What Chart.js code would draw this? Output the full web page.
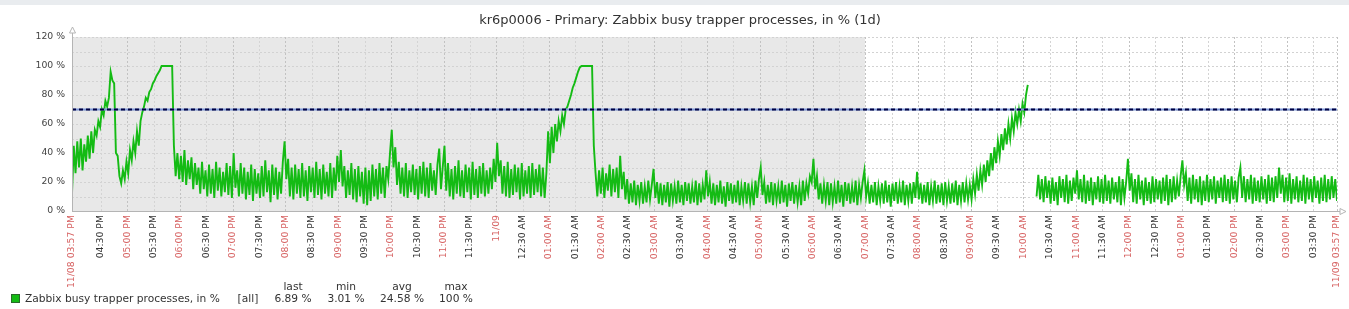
<!DOCTYPE html>
<html>
<head>
<meta charset="utf-8">
<title>kr6p0006 - Primary: Zabbix busy trapper processes</title>
<script src="https://cdn.jsdelivr.net/npm/chart.js@4.4.1/dist/chart.umd.min.js"></script>
<style>
  html, body { margin: 0; padding: 0; background: #fff; }
</style>
</head>
<body>
<canvas id="graph" width="1349" height="309"></canvas>
<script>
"use strict";

// ---- data (one sample every 2 minutes, 11/08 03:57 PM -> 11/09 03:57 PM) ----
const stepMin = 2;
const spanMin = 1440;
const shadeEndMin = 903;   // 07:00 AM, end of the grey (non-working) period
const triggerValue = 70;

const busyEvening = [
  12, 45, 26, 48, 30, 50, 28, 46, 34, 52,
  36, 55, 40, 56, 52, 62, 58, 70, 66, 76,
  72, 78, 96, 90, 88
];
const busySecondPeak = [
  40, 38, 24, 19, 28, 22, 34, 26, 42, 35,
  48, 40, 55, 45, 62, 68, 72, 78, 76, 82,
  84, 88, 90, 93, 95, 97, 100, 100, 100, 100,
  100, 100, 100
];
const busyNight = [
  45, 24, 40, 22, 38, 20, 42, 18, 35, 22,
  37, 15, 33, 18, 30, 12, 34, 15, 28, 10,
  32, 12, 29, 9, 34, 14, 30, 10, 27, 13,
  33, 11, 31, 9, 40, 16, 28, 10, 33, 12,
  30, 8, 27, 11, 32, 7, 29, 12, 26, 9,
  31, 10, 35, 13, 28, 6, 32, 11, 30, 8,
  27, 12, 34, 48, 22, 36, 10, 30, 8, 32,
  12, 29, 9, 33, 10, 28, 7, 31, 13, 30,
  9, 34, 11, 29, 8, 32, 12, 27, 10, 33,
  9, 30, 14, 38, 20, 42, 17, 31, 9, 28,
  11, 33, 8, 29, 6, 31, 10, 27, 5, 30,
  4, 28, 7, 32, 10, 29, 8, 33, 12, 30,
  9, 31, 22, 40, 56, 30, 44, 18, 34, 12,
  30, 10, 33, 9, 28, 13, 32, 11, 29, 8,
  31, 12, 34, 10, 30, 9, 33, 14, 28, 11,
  32, 43, 15, 30, 45, 14, 33, 10, 29, 8,
  31, 12, 35, 10, 28, 9, 32, 13, 30, 8,
  34, 11, 29, 9, 31, 12, 33, 10, 28, 12,
  30, 15, 36, 20, 47, 24, 35, 12, 31, 10,
  34, 9, 29, 11, 32, 13, 30, 8, 33, 10,
  28, 12, 31, 9, 33, 11, 29, 13, 32, 10,
  30, 9, 26
];
const busyOneAm = [
  55, 33, 58, 40, 60, 48, 62, 55, 66, 60,
  70, 72, 76, 80, 85, 88, 92, 96, 99, 100,
  100, 100, 100, 100, 100, 100
];
const busyMorning = [
  45, 26, 10, 28, 12, 30, 9, 26, 14, 32,
  10, 29, 13, 30, 9, 38, 15, 27, 8, 22,
  5, 19, 6, 21, 4, 18, 7, 20, 5, 17,
  6, 21, 8, 18, 29, 9, 20, 5, 19, 4,
  18, 6, 20, 3, 19, 7, 17, 5, 21, 6,
  18, 4, 20, 7, 19, 5, 17, 6, 21, 4,
  19, 6, 18, 8, 28, 10, 20, 5, 19, 4,
  18, 6, 21, 5, 17, 3, 20, 7, 19, 5,
  18, 6, 21, 4, 17, 7, 20, 5, 19, 6,
  17, 4, 21, 9, 22, 30, 11, 20, 5, 18,
  6, 20, 4, 19, 7, 17, 5, 21, 6, 18,
  3, 19, 7, 20, 5, 18, 6, 17, 4, 21,
  7, 19, 12, 24, 20, 36, 15, 24, 8, 19,
  5, 18, 7, 20, 4, 19, 6, 17, 5, 21,
  6, 18, 3, 20, 7, 19, 5, 17, 6, 21,
  4, 18, 9, 20, 28, 10, 19, 5, 18, 6,
  20, 4, 17, 7, 19, 5, 21, 6, 18, 3,
  19, 7, 20, 5, 17, 6, 21, 4, 18, 7,
  19, 5, 20, 9, 27, 8, 19, 5, 18, 6,
  20, 4, 17, 7, 21, 5, 18, 6, 19, 4,
  20, 7, 17, 5, 19, 6, 21, 4, 18, 7,
  20, 6, 19, 8
];
const busyRise = [
  18, 8, 22, 12, 25, 14, 28, 18, 32, 20,
  35, 24, 40, 28, 44, 33, 48, 38, 53, 42,
  57, 46, 60, 50, 64, 55, 68, 60, 70, 62,
  74, 68, 80, 87
];
const busyGap = [null, null, null, null];
const busyDay = [
  10, 25, 8, 22, 6, 24, 9, 21, 5, 23,
  7, 20, 4, 24, 9, 22, 6, 25, 5, 21,
  7, 23, 12, 28, 8, 22, 6, 25, 5, 21,
  7, 23, 4, 20, 8, 24, 6, 22, 5, 25,
  7, 21, 5, 23, 8, 20, 6, 24, 4, 22,
  9, 20, 36, 14, 26, 6, 22, 5, 25, 8,
  21, 4, 23, 7, 20, 5, 24, 6, 22, 8,
  21, 5, 23, 7, 25, 4, 22, 6, 24, 8,
  21, 10, 24, 35, 18, 26, 7, 23, 5, 25,
  8, 22, 6, 24, 4, 21, 7, 25, 6, 22,
  8, 24, 5, 21, 9, 23, 6, 25, 7, 22,
  5, 24, 8, 21, 6, 23, 30, 9, 24, 6,
  22, 8, 25, 5, 23, 7, 21, 6, 24, 8,
  22, 5, 25, 7, 23, 6, 24, 9, 30, 12,
  25, 6, 23, 7, 26, 5, 22, 8, 24, 6,
  21, 7, 25, 5, 23, 8, 22, 6, 24, 9,
  21, 5, 23, 7, 25, 6, 22, 8, 24, 9,
  22, 6.89
];

const xTickLabels = [
  "11/08 03:57 PM", "04:30 PM", "05:00 PM", "05:30 PM", "06:00 PM", "06:30 PM", "07:00 PM", "07:30 PM",
  "08:00 PM", "08:30 PM", "09:00 PM", "09:30 PM", "10:00 PM", "10:30 PM", "11:00 PM", "11:30 PM",
  "11/09", "12:30 AM", "01:00 AM", "01:30 AM", "02:00 AM", "02:30 AM", "03:00 AM", "03:30 AM",
  "04:00 AM", "04:30 AM", "05:00 AM", "05:30 AM", "06:00 AM", "06:30 AM", "07:00 AM", "07:30 AM",
  "08:00 AM", "08:30 AM", "09:00 AM", "09:30 AM", "10:00 AM", "10:30 AM", "11:00 AM", "11:30 AM",
  "12:00 PM", "12:30 PM", "01:00 PM", "01:30 PM", "02:00 PM", "02:30 PM", "03:00 PM", "03:30 PM",
  "11/09 03:57 PM"
];
const yTickLabels = [0, 20, 40, 60, 80, 100, 120];

const legendName = "Zabbix busy trapper processes, in %";
const statNames = ["last", "min", "avg", "max"];
const statValues = ["6.89 %", "3.01 %", "24.58 %", "100 %"];
const chartTitle = "kr6p0006 - Primary: Zabbix busy trapper processes, in % (1d)";

// ---- build ----
const busyValues = [].concat(busyEvening, busySecondPeak, busyNight, busyOneAm, busyMorning, busyRise, busyGap, busyDay);
const busyPoints = busyValues.map((v, i) => ({ x: i * stepMin, y: v }));

// first tick at the start, then every half hour from 04:30 PM, then the end
const xTickMinutes = [0];
for (let m = 33; m < spanMin; m += 30) xTickMinutes.push(m);
xTickMinutes.push(spanMin);

const GREEN = "#14bb14";
const FONT = "'DejaVu Sans', sans-serif";
const isHourLabel = lbl => lbl.includes(":00") || lbl.includes("/");

const zabbixDecor = {
  id: "zabbixDecor",
  beforeDraw(chart) {
    const { ctx, chartArea: a, scales: { x } } = chart;
    ctx.save();
    ctx.fillStyle = "#e9ecef";
    ctx.fillRect(0, 0, chart.width, 5);
    const xEnd = Math.round(x.getPixelForValue(shadeEndMin));
    ctx.fillStyle = "#e8e8e8";
    ctx.fillRect(a.left, a.top, xEnd - a.left, a.bottom - a.top);
    ctx.restore();
  },
  beforeDatasetsDraw(chart) {
    const { ctx, chartArea: a, scales: { x, y } } = chart;
    ctx.save();
    ctx.lineWidth = 1;
    ctx.setLineDash([2, 2]);
    y.ticks.forEach(t => {
      if (t.value === 0) return;
      const py = Math.round(y.getPixelForValue(t.value)) + 0.5;
      ctx.strokeStyle = "#d2d2d2";
      ctx.beginPath(); ctx.moveTo(a.left, py); ctx.lineTo(a.right, py); ctx.stroke();
    });
    x.ticks.forEach((t, i) => {
      if (t.value === 0) return;
      const px = Math.round(x.getPixelForValue(t.value)) + 0.5;
      ctx.strokeStyle = isHourLabel(xTickLabels[i] || "") ? "#c2c2c2" : "#d4d4d4";
      ctx.beginPath(); ctx.moveTo(px, a.top); ctx.lineTo(px, a.bottom); ctx.stroke();
    });
    ctx.restore();
  },
  afterDraw(chart) {
    const { ctx, chartArea: a, scales: { x, y } } = chart;
    ctx.save();

    // axes with open arrow heads
    ctx.strokeStyle = "#b4b4b4";
    ctx.lineWidth = 1;
    ctx.beginPath();
    ctx.moveTo(a.left + 0.5, a.bottom); ctx.lineTo(a.left + 0.5, a.top - 4);
    ctx.moveTo(a.left, a.bottom + 0.5); ctx.lineTo(a.right + 3, a.bottom + 0.5);
    ctx.stroke();
    ctx.beginPath();
    ctx.moveTo(a.left + 0.5, a.top - 10); ctx.lineTo(a.left - 2.5, a.top - 4); ctx.lineTo(a.left + 3.5, a.top - 4); ctx.closePath();
    ctx.moveTo(a.right + 9, a.bottom + 0.5); ctx.lineTo(a.right + 3, a.bottom - 2.5); ctx.lineTo(a.right + 3, a.bottom + 3.5); ctx.closePath();
    ctx.stroke();

    // title
    ctx.fillStyle = "#333";
    ctx.font = "13px " + FONT;
    ctx.textAlign = "center";
    ctx.textBaseline = "middle";
    ctx.fillText(chartTitle, 680, 21);

    // y labels
    ctx.font = "9.3px " + FONT;
    ctx.textAlign = "right";
    ctx.fillStyle = "#444";
    yTickLabels.forEach(v => {
      ctx.fillText(v + " %", a.left - 7, y.getPixelForValue(v));
    });

    // x labels, rotated to read upwards
    x.ticks.forEach((t, i) => {
      const lbl = xTickLabels[i];
      if (!lbl) return;
      const px = x.getPixelForValue(t.value);
      ctx.save();
      ctx.translate(px, a.bottom + 4);
      ctx.rotate(-Math.PI / 2);
      ctx.textAlign = "right";
      ctx.textBaseline = "middle";
      ctx.fillStyle = isHourLabel(lbl) ? "#d66060" : "#333";
      ctx.fillText(lbl, 0, 0);
      ctx.restore();
    });

    // legend
    const statX = [293, 346, 402, 456];
    ctx.font = "10.67px " + FONT;
    ctx.fillStyle = "#333";
    ctx.textAlign = "center";
    ctx.textBaseline = "middle";
    statNames.forEach((s, i) => ctx.fillText(s, statX[i], 287));
    statValues.forEach((s, i) => ctx.fillText(s, statX[i], 299));
    ctx.fillText("[all]", 248, 299);
    ctx.textAlign = "left";
    ctx.fillText(legendName, 25, 299);
    ctx.fillStyle = GREEN;
    ctx.fillRect(11, 294, 9, 9);
    ctx.strokeStyle = "#2a6a2a";
    ctx.strokeRect(11.5, 294.5, 8, 8);

    ctx.restore();
  }
};

new Chart(document.getElementById("graph"), {
  type: "line",
  data: {
    datasets: [
      {
        label: "trigger",
        data: [{ x: 0, y: triggerValue }, { x: spanMin, y: triggerValue }],
        borderColor: "#000040",
        borderWidth: 2,
        borderDash: [4, 3],
        order: 0
      },
      {
        label: "trigger base",
        data: [{ x: 0, y: triggerValue }, { x: spanMin, y: triggerValue }],
        borderColor: "#7d97d8",
        borderWidth: 2,
        order: 1
      },
      {
        label: legendName,
        data: busyPoints,
        borderColor: GREEN,
        borderWidth: 1.9,
        spanGaps: false,
        order: 2
      }
    ]
  },
  options: {
    responsive: false,
    animation: false,
    events: [],
    layout: { padding: { left: 72, right: 12, top: 37, bottom: 98 } },
    elements: { point: { radius: 0 }, line: { tension: 0 } },
    plugins: { legend: { display: false }, tooltip: { enabled: false } },
    scales: {
      x: {
        type: "linear",
        min: 0,
        max: spanMin,
        grid: { display: false, drawTicks: false },
        border: { display: false },
        ticks: { display: false },
        afterBuildTicks: scale => { scale.ticks = xTickMinutes.map(v => ({ value: v })); }
      },
      y: {
        min: 0,
        max: 120,
        grid: { display: false, drawTicks: false },
        border: { display: false },
        ticks: { display: false, stepSize: 10 }
      }
    }
  },
  plugins: [zabbixDecor]
});
</script>
</body>
</html>
